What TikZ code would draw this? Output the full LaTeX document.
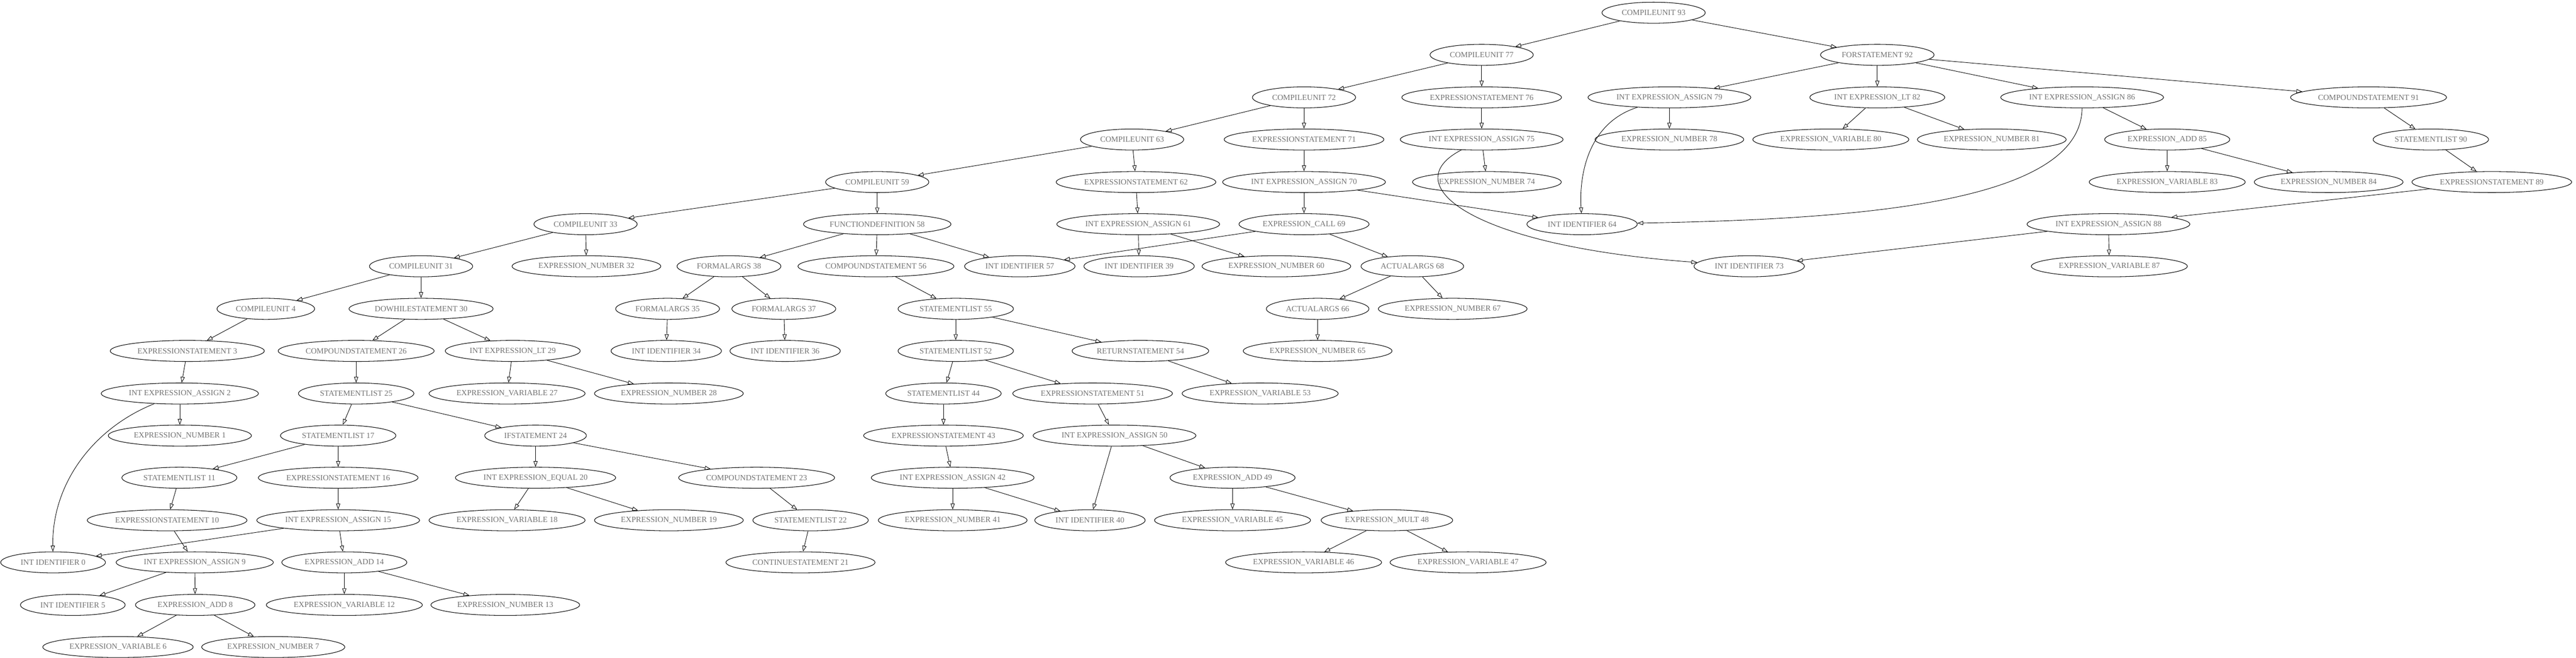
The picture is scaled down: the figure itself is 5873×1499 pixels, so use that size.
\documentclass[tikz,border=0pt]{standalone}
\usepackage{fontspec}
\setmainfont{Liberation Serif}
\usepackage{tikz}
\usetikzlibrary{shapes.geometric,arrows.meta}
\tikzset{
	->,
	>={Triangle[open,length=1.33mm,width=0.93mm]},
	astnode/.style={draw, ellipse, line width=0.35pt, text=black!55,
		inner xsep=1.056mm, inner ysep=0.53mm,
		minimum height=4.8mm, minimum width=7.2mm,
		font=\fontsize{5.15pt}{6pt}\selectfont},
	link/.style={line width=0.3pt},
}

\begin{document}
\begin{tikzpicture}[
            x=0.1mm,
            y=-0.1mm
        ]
        \useasboundingbox (0,0) rectangle (5873,1499);

        \node[astnode] (c93) at (3770,29) {COMPILEUNIT 93};

        \node[astnode] (c77) at (3378,125) {COMPILEUNIT 77};
        \node[astnode] (f92) at (4280,125) {FORSTATEMENT 92};

        \node[astnode] (c72) at (2973,222) {COMPILEUNIT 72};
        \node[astnode] (s76) at (3378,222) {EXPRESSIONSTATEMENT 76};
        \node[astnode] (a79) at (3806,222) {INT EXPRESSION\_ASSIGN 79};
        \node[astnode] (l82) at (4280,222) {INT EXPRESSION\_LT 82};
        \node[astnode] (a86) at (4747,222) {INT EXPRESSION\_ASSIGN 86};
        \node[astnode] (b91) at (5400,222) {COMPOUNDSTATEMENT 91};

        \node[astnode] (c63) at (2581,318) {COMPILEUNIT 63};
        \node[astnode] (s71) at (2973,318) {EXPRESSIONSTATEMENT 71};
        \node[astnode] (a75) at (3378,318) {INT EXPRESSION\_ASSIGN 75};
        \node[astnode] (n78) at (3806,318) {EXPRESSION\_NUMBER 78};
        \node[astnode] (v80) at (4174,318) {EXPRESSION\_VARIABLE 80};
        \node[astnode] (n81) at (4541,318) {EXPRESSION\_NUMBER 81};
        \node[astnode] (d85) at (4941,318) {EXPRESSION\_ADD 85};
        \node[astnode] (l90) at (5542,318) {STATEMENTLIST 90};

        \node[astnode] (c59) at (2000,415) {COMPILEUNIT 59};
        \node[astnode] (s62) at (2590,415) {EXPRESSIONSTATEMENT 62};
        \node[astnode] (a70) at (2973,415) {INT EXPRESSION\_ASSIGN 70};
        \node[astnode] (n74) at (3390,415) {EXPRESSION\_NUMBER 74};
        \node[astnode] (v83) at (4941,415) {EXPRESSION\_VARIABLE 83};
        \node[astnode] (n84) at (5309,415) {EXPRESSION\_NUMBER 84};
        \node[astnode] (s89) at (5681,415) {EXPRESSIONSTATEMENT 89};

        \node[astnode] (c33) at (1335,511) {COMPILEUNIT 33};
        \node[astnode] (fd58) at (2000,511) {FUNCTIONDEFINITION 58};
        \node[astnode] (a61) at (2595,511) {INT EXPRESSION\_ASSIGN 61};
        \node[astnode] (k69) at (2973,511) {EXPRESSION\_CALL 69};
        \node[astnode] (i64) at (3607,511) {INT IDENTIFIER 64};
        \node[astnode] (a88) at (4807,511) {INT EXPRESSION\_ASSIGN 88};

        \node[astnode] (c31) at (960,607) {COMPILEUNIT 31};
        \node[astnode] (n32) at (1337,607) {EXPRESSION\_NUMBER 32};
        \node[astnode] (fa38) at (1662,607) {FORMALARGS 38};
        \node[astnode] (b56) at (1997,607) {COMPOUNDSTATEMENT 56};
        \node[astnode] (i57) at (2325,607) {INT IDENTIFIER 57};
        \node[astnode] (i39) at (2597,607) {INT IDENTIFIER 39};
        \node[astnode] (n60) at (2910,607) {EXPRESSION\_NUMBER 60};
        \node[astnode] (aa68) at (3220,607) {ACTUALARGS 68};
        \node[astnode] (i73) at (3988,607) {INT IDENTIFIER 73};
        \node[astnode] (v87) at (4809,607) {EXPRESSION\_VARIABLE 87};

        \node[astnode] (c4) at (606,704) {COMPILEUNIT 4};
        \node[astnode] (w30) at (960,704) {DOWHILESTATEMENT 30};
        \node[astnode] (fa35) at (1522,704) {FORMALARGS 35};
        \node[astnode] (fa37) at (1787,704) {FORMALARGS 37};
        \node[astnode] (l55) at (2179,704) {STATEMENTLIST 55};
        \node[astnode] (aa66) at (3004,704) {ACTUALARGS 66};
        \node[astnode] (n67) at (3312,704) {EXPRESSION\_NUMBER 67};

        \node[astnode] (s3) at (427,800) {EXPRESSIONSTATEMENT 3};
        \node[astnode] (b26) at (812,800) {COMPOUNDSTATEMENT 26};
        \node[astnode] (l29) at (1169,800) {INT EXPRESSION\_LT 29};
        \node[astnode] (i34) at (1519,800) {INT IDENTIFIER 34};
        \node[astnode] (i36) at (1790,800) {INT IDENTIFIER 36};
        \node[astnode] (l52) at (2179,800) {STATEMENTLIST 52};
        \node[astnode] (r54) at (2600,800) {RETURNSTATEMENT 54};
        \node[astnode] (n65) at (3004,800) {EXPRESSION\_NUMBER 65};

        \node[astnode] (a2) at (410,897) {INT EXPRESSION\_ASSIGN 2};
        \node[astnode] (l25) at (812,897) {STATEMENTLIST 25};
        \node[astnode] (v27) at (1156,897) {EXPRESSION\_VARIABLE 27};
        \node[astnode] (n28) at (1525,897) {EXPRESSION\_NUMBER 28};
        \node[astnode] (l44) at (2151,897) {STATEMENTLIST 44};
        \node[astnode] (s51) at (2491,897) {EXPRESSIONSTATEMENT 51};
        \node[astnode] (v53) at (2873,897) {EXPRESSION\_VARIABLE 53};

        \node[astnode] (n1) at (410,993) {EXPRESSION\_NUMBER 1};
        \node[astnode] (l17) at (771,993) {STATEMENTLIST 17};
        \node[astnode] (if24) at (1221,993) {IFSTATEMENT 24};
        \node[astnode] (s43) at (2151,993) {EXPRESSIONSTATEMENT 43};
        \node[astnode] (a50) at (2541,993) {INT EXPRESSION\_ASSIGN 50};

        \node[astnode] (l11) at (409,1089) {STATEMENTLIST 11};
        \node[astnode] (s16) at (771,1089) {EXPRESSIONSTATEMENT 16};
        \node[astnode] (e20) at (1221,1089) {INT EXPRESSION\_EQUAL 20};
        \node[astnode] (b23) at (1725,1089) {COMPOUNDSTATEMENT 23};
        \node[astnode] (a42) at (2172,1089) {INT EXPRESSION\_ASSIGN 42};
        \node[astnode] (d49) at (2810,1089) {EXPRESSION\_ADD 49};

        \node[astnode] (s10) at (381,1186) {EXPRESSIONSTATEMENT 10};
        \node[astnode] (a15) at (771,1186) {INT EXPRESSION\_ASSIGN 15};
        \node[astnode] (v18) at (1156,1186) {EXPRESSION\_VARIABLE 18};
        \node[astnode] (n19) at (1525,1186) {EXPRESSION\_NUMBER 19};
        \node[astnode] (l22) at (1848,1186) {STATEMENTLIST 22};
        \node[astnode] (n41) at (2172,1186) {EXPRESSION\_NUMBER 41};
        \node[astnode] (i40) at (2485,1186) {INT IDENTIFIER 40};
        \node[astnode] (v45) at (2810,1186) {EXPRESSION\_VARIABLE 45};
        \node[astnode] (m48) at (3162,1186) {EXPRESSION\_MULT 48};

        \node[astnode] (i0) at (121,1282) {INT IDENTIFIER 0};
        \node[astnode] (a9) at (444,1282) {INT EXPRESSION\_ASSIGN 9};
        \node[astnode] (d14) at (785,1282) {EXPRESSION\_ADD 14};
        \node[astnode] (k21) at (1825,1282) {CONTINUESTATEMENT 21};
        \node[astnode] (v46) at (2972,1282) {EXPRESSION\_VARIABLE 46};
        \node[astnode] (v47) at (3347,1282) {EXPRESSION\_VARIABLE 47};

        \node[astnode] (i5) at (166,1379) {INT IDENTIFIER 5};
        \node[astnode] (d8) at (445,1379) {EXPRESSION\_ADD 8};
        \node[astnode] (v12) at (785,1379) {EXPRESSION\_VARIABLE 12};
        \node[astnode] (n13) at (1152,1379) {EXPRESSION\_NUMBER 13};

        \node[astnode] (v6) at (269,1475) {EXPRESSION\_VARIABLE 6};
        \node[astnode] (n7) at (623,1475) {EXPRESSION\_NUMBER 7};

        \draw[link] (c93) -- (c77);
        \draw[link] (c93) -- (f92);
        \draw[link] (c77) -- (c72);
        \draw[link] (c77) -- (s76);
        \draw[link] (c72) -- (c63);
        \draw[link] (c72) -- (s71);
        \draw[link] (c63) -- (c59);
        \draw[link] (c63) -- (s62);
        \draw[link] (c59) -- (c33);
        \draw[link] (c59) -- (fd58);
        \draw[link] (c33) -- (c31);
        \draw[link] (c33) -- (n32);
        \draw[link] (c31) -- (c4);
        \draw[link] (c31) -- (w30);
        \draw[link] (c4) -- (s3);
        \draw[link] (s3) -- (a2);
        \draw[link] (a2) -- (n1);
        \draw[link] (a2) .. controls (215,975) and (118,1100) .. (i0);
        \draw[link] (w30) -- (b26);
        \draw[link] (w30) -- (l29);
        \draw[link] (l29) -- (v27);
        \draw[link] (l29) -- (n28);
        \draw[link] (b26) -- (l25);
        \draw[link] (l25) -- (l17);
        \draw[link] (l25) -- (if24);
        \draw[link] (l17) -- (l11);
        \draw[link] (l17) -- (s16);
        \draw[link] (if24) -- (e20);
        \draw[link] (if24) -- (b23);
        \draw[link] (l11) -- (s10);
        \draw[link] (s16) -- (a15);
        \draw[link] (e20) -- (v18);
        \draw[link] (e20) -- (n19);
        \draw[link] (b23) -- (l22);
        \draw[link] (s10) -- (a9);
        \draw[link] (a15) -- (i0);
        \draw[link] (a15) -- (d14);
        \draw[link] (l22) -- (k21);
        \draw[link] (a9) -- (i5);
        \draw[link] (a9) -- (d8);
        \draw[link] (d14) -- (v12);
        \draw[link] (d14) -- (n13);
        \draw[link] (d8) -- (v6);
        \draw[link] (d8) -- (n7);
        \draw[link] (fd58) -- (fa38);
        \draw[link] (fd58) -- (b56);
        \draw[link] (fd58) -- (i57);
        \draw[link] (fa38) -- (fa35);
        \draw[link] (fa38) -- (fa37);
        \draw[link] (fa35) -- (i34);
        \draw[link] (fa37) -- (i36);
        \draw[link] (b56) -- (l55);
        \draw[link] (l55) -- (l52);
        \draw[link] (l55) -- (r54);
        \draw[link] (l52) -- (l44);
        \draw[link] (l52) -- (s51);
        \draw[link] (r54) -- (v53);
        \draw[link] (l44) -- (s43);
        \draw[link] (s51) -- (a50);
        \draw[link] (s43) -- (a42);
        \draw[link] (a50) -- (i40);
        \draw[link] (a50) -- (d49);
        \draw[link] (a42) -- (n41);
        \draw[link] (a42) -- (i40);
        \draw[link] (d49) -- (v45);
        \draw[link] (d49) -- (m48);
        \draw[link] (m48) -- (v46);
        \draw[link] (m48) -- (v47);
        \draw[link] (s62) -- (a61);
        \draw[link] (a61) -- (i39);
        \draw[link] (a61) -- (n60);
        \draw[link] (s71) -- (a70);
        \draw[link] (a70) -- (k69);
        \draw[link] (a70) -- (i64);
        \draw[link] (k69) -- (i57);
        \draw[link] (k69) -- (aa68);
        \draw[link] (aa68) -- (aa66);
        \draw[link] (aa68) -- (n67);
        \draw[link] (aa66) -- (n65);
        \draw[link] (s76) -- (a75);
        \draw[link] (a75) -- (n74);
        \draw[link] (a75) .. controls (3180,420) and (3350,560) .. (i73);
        \draw[link] (f92) -- (a79);
        \draw[link] (f92) -- (l82);
        \draw[link] (f92) -- (a86);
        \draw[link] (f92) -- (b91);
        \draw[link] (a79) .. controls (3620,280) and (3600,400) .. (i64);
        \draw[link] (a79) -- (n78);
        \draw[link] (l82) -- (v80);
        \draw[link] (l82) -- (n81);
        \draw[link] (a86) .. controls (4745,470) and (4200,500) .. (i64);
        \draw[link] (a86) -- (d85);
        \draw[link] (d85) -- (v83);
        \draw[link] (d85) -- (n84);
        \draw[link] (b91) -- (l90);
        \draw[link] (l90) -- (s89);
        \draw[link] (s89) -- (a88);
        \draw[link] (a88) -- (i73);
        \draw[link] (a88) -- (v87);
    \end{tikzpicture}
\end{document}
